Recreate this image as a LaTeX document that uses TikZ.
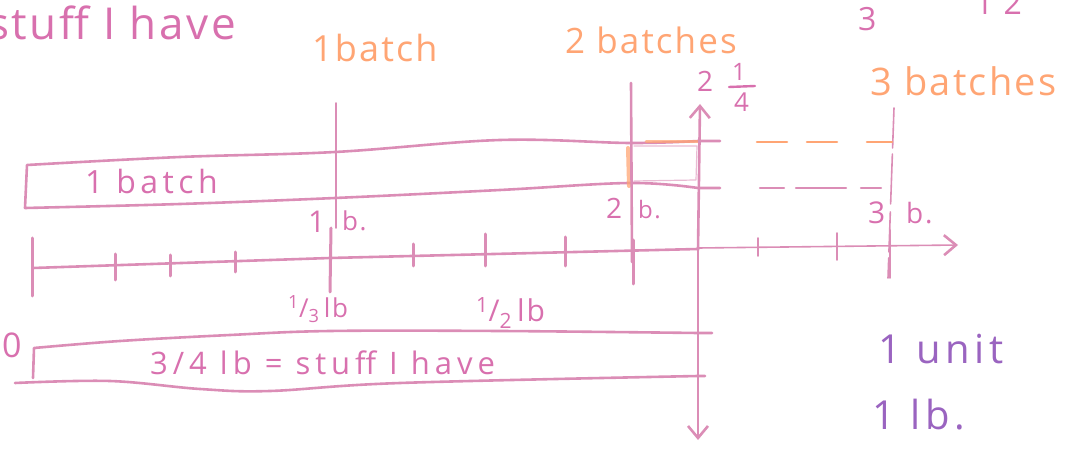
\documentclass[tikz,border=0pt]{standalone}
\usepackage{fontspec}
\setmainfont{Open Sans}[LetterSpace=6]
\usetikzlibrary{arrows.meta}
\definecolor{pk}{HTML}{DB8DB6}
\definecolor{pkt}{HTML}{D870AE}
\definecolor{org}{HTML}{FFA574}
\definecolor{pur}{HTML}{9A64C0}
\newcommand{\fs}[1]{\fontsize{#1}{#1}\selectfont}
\begin{document}
\begin{tikzpicture}[x=1pt,y=-1pt,line cap=round,line join=round,
  ln/.style={draw=pk,line width=2.6pt},
  thin/.style={draw=pk,line width=1.6pt},
  tick/.style={draw=pk,line width=3pt},
  barb/.style={-{Straight Barb[length=12pt,width=20pt,line width=2.6pt]}},
  t/.style={inner sep=0pt,anchor=base west},
  pkt/.style={t,text=pkt},
  ot/.style={t,text=org},
  pt/.style={t,text=pur}]
\useasboundingbox (0,0) rectangle (1071,454);

% ---- titles ----
\node[pkt,font=\fs{44}] (stuff) at (-12,40) {stuff I have};
\node[ot,font=\fs{36}] (b1) at (312,62) {1batch};
\node[ot,font=\fs{35}] (b2) at (565,54) {2 batches};
\node[pkt,font=\fs{32}] (three) at (858,31) {3};
\node[pkt,font=\fs{32}] (twelve) at (975,15) {1 2};
\node[ot,font=\fs{38}] (b3) at (870,96) {3 batches};
\node[pkt,font=\fs{28}] (two) at (697,92) {2};
\node[pkt,font=\fs{24}] (qnum) at (732,81) {1};
\node[pkt,font=\fs{26}] (qden) at (734,112) {4};
\draw[draw=pkt,line width=2.4pt] (729,87) -- (755,86);

% ---- top bar (1 batch) ----
\draw[ln] (720,141) -- plot[smooth,tension=0.6] coordinates {(698,141) (630,143) (500,140) (335,152) (180,157) (27,165)}
  -- (25,208) -- plot[smooth,tension=0.6] coordinates {(25,208) (180,204) (335,198) (500,190) (630,183) (698,188)} -- (720,188);
\node[pkt,font=\fs{32}\addfontfeature{LetterSpace=14}] (batch1) at (85,194) {1 batch};

% orange highlighted part
\draw[org,line width=3pt,opacity=0.75] (646,142) -- (698,142);
\draw[org,line width=4pt,opacity=0.75] (628,148) -- (629,186);
\draw[pk,line width=1.2pt,opacity=0.6] (634,146) -- (697,146) -- (696,180) -- (634,181);

% ---- vertical lines ----
\draw[thin] (336,103) -- (336,228);
\draw[tick] (331,228) -- (330,292);
\draw[ln] (631,83) -- (632,262);
\coordinate (upA) at (700,104);
\coordinate (dnA) at (698,440);
\draw[ln,barb] (698,250) -- (upA);
\draw[ln,barb] (698,250) -- (dnA);
\draw[thin,dash pattern=on 40pt off 6pt on 50pt off 8pt] (894,108) -- (888,278);

% dashed horizontals toward 3 batches
\draw[org,line width=2.6pt,dash pattern=on 30pt off 20pt on 30pt off 30pt] (757,142) -- (892,142);
\draw[pk,line width=2.4pt,dash pattern=on 24pt off 12pt on 50pt off 15pt on 20pt off 20pt] (760,188) -- (890,188);

% labels on bars
\node[pkt,font=\fs{30}] (l1) at (308,233) {1};
\node[pkt,font=\fs{26}] (lb1) at (342,231) {b.};
\node[pkt,font=\fs{28}] (l2) at (606,219) {2};
\node[pkt,font=\fs{24}] (lb2) at (638,219) {b.};
\node[pkt,font=\fs{30}] (l3) at (868,224) {3};
\node[pkt,font=\fs{28}] (lb3) at (906,224) {b.};

% ---- number line ----
\draw[ln] (33,268) -- (330,258) -- (698,249);
\coordinate (nlend) at (958,245);
\draw[thin,barb] (698,248) -- (nlend);
\foreach \x/\a/\b in {32/238/296,115/254/280,170/255/276,235/252/272,413/244/266,485/234/266,565/237/266,633/240/284}
  \draw[tick] (\x,\a) -- (\x,\b);
\foreach \x/\a/\b in {758/238/256,837/233/260,890/230/278}
  \draw[thin] (\x,\a) -- (\x,\b);

\node[pkt,font=\fs{26}] (third) at (288,318) {\textsuperscript{1}/\textsubscript{3}\,lb};
\node[pkt,font=\fs{30}] (half) at (476,322) {\textsuperscript{1}/\textsubscript{2}\,lb};

% ---- bottom bar (stuff I have) ----
\node[pkt,font=\fs{34}] (zero) at (2,357) {0};
\draw[ln] (33,378) -- (34,348) -- plot[smooth,tension=0.6] coordinates {(34,348) (120,341) (230,335) (330,331) (500,331) (698,333)} -- (712,333);
\draw[ln] plot[smooth,tension=0.6] coordinates {(15,383) (110,381) (200,389) (270,391) (400,383) (698,376)} -- (705,376);
\node[pkt,font=\fs{31}\addfontfeature{LetterSpace=16}] (have) at (150,374) {3/4 lb = stuff I have};

% ---- unit ----
\node[pt,font=\fs{40}\addfontfeature{LetterSpace=12}] (unit) at (878,363) {1 unit};
\node[pt,font=\fs{40}\addfontfeature{LetterSpace=12}] (lb) at (872,429) {1 lb.};
\end{tikzpicture}
\end{document}
